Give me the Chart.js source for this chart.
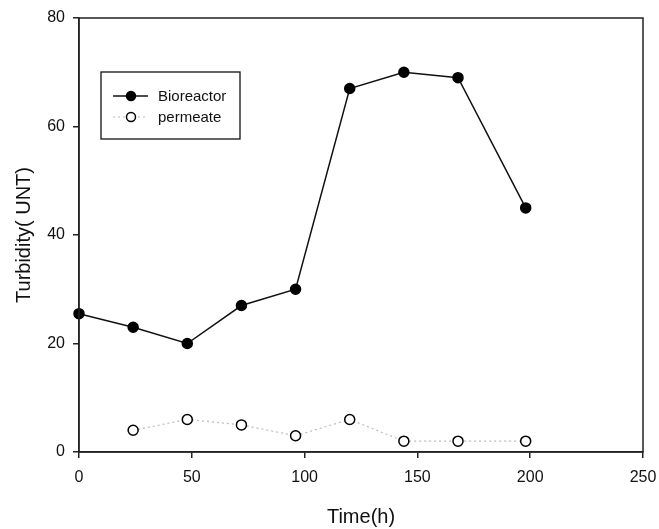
<!DOCTYPE html>
<html>
<head>
<meta charset="utf-8">
<script src="https://cdn.jsdelivr.net/npm/chart.js@4/dist/chart.umd.min.js"></script>
<style>
  html, body { margin: 0; padding: 0; background: #fff; }
  #wrap { width: 659px; height: 529px; }
</style>
</head>
<body>
<div id="wrap"><canvas id="chart"></canvas></div>
<script>
const timeHours = [0, 24, 48, 72, 96, 120, 144, 168, 198]
const bioreactor = [25.5, 23, 20, 27, 30, 67, 70, 69, 45]
const permeateTimes = [24, 48, 72, 96, 120, 144, 168, 198]
const permeate = [4, 6, 5, 3, 6, 2, 2, 2]
const xTicks = [0, 50, 100, 150, 200, 250]
const yTicks = [0, 20, 40, 60, 80]

const font = "'Liberation Sans', Arial, sans-serif"

// frame around the plot area (top and right sides too)
const frame = {
  id: "frame",
  afterDraw(chart) {
    const { ctx, chartArea: a } = chart
    ctx.save()
    ctx.strokeStyle = "#222"
    ctx.lineWidth = 1.5
    ctx.strokeRect(a.left, a.top, a.right - a.left, a.bottom - a.top)
    ctx.restore()
  }
}

// legend box inside the plot, like the original
const boxLegend = {
  id: "boxLegend",
  afterDraw(chart) {
    const { ctx } = chart
    const x = 101, y = 72, w = 139, h = 67
    ctx.save()
    ctx.fillStyle = "#fff"
    ctx.fillRect(x, y, w, h)
    ctx.strokeStyle = "#111"
    ctx.lineWidth = 1.3
    ctx.strokeRect(x, y, w, h)
    ctx.font = "15px " + font
    ctx.textBaseline = "middle"
    chart.data.datasets.forEach((ds, i) => {
      const cy = y + 24 + i * 21
      ctx.strokeStyle = ds.borderColor
      ctx.lineWidth = ds.borderWidth
      ctx.setLineDash(ds.borderDash || [])
      ctx.beginPath()
      ctx.moveTo(x + 12, cy)
      ctx.lineTo(x + 47, cy)
      ctx.stroke()
      ctx.setLineDash([])
      ctx.beginPath()
      ctx.arc(x + 30, cy, 4.5, 0, Math.PI * 2)
      ctx.fillStyle = ds.pointBackgroundColor
      ctx.fill()
      ctx.strokeStyle = ds.pointBorderColor
      ctx.lineWidth = 1.5
      ctx.stroke()
      ctx.fillStyle = "#111"
      ctx.fillText(ds.label, x + 57, cy + 1)
    })
    ctx.restore()
  }
}

new Chart(document.getElementById("chart"), {
  type: "line",
  data: {
    datasets: [
      {
        label: "Bioreactor",
        data: timeHours.map((t, i) => ({ x: t, y: bioreactor[i] })),
        borderColor: "#111",
        borderWidth: 1.5,
        pointRadius: 5,
        pointBackgroundColor: "#000",
        pointBorderColor: "#000",
        pointBorderWidth: 1.5,
        clip: false,
        fill: false
      },
      {
        label: "permeate",
        data: permeateTimes.map((t, i) => ({ x: t, y: permeate[i] })),
        borderColor: "#bbb",
        borderWidth: 1.2,
        borderDash: [2, 3],
        pointRadius: 5,
        pointBackgroundColor: "#fff",
        pointBorderColor: "#000",
        pointBorderWidth: 1.5,
        clip: false,
        fill: false
      }
    ]
  },
  options: {
    responsive: true,
    maintainAspectRatio: false,
    animation: false,
    layout: { padding: { top: 18, right: 16, left: 0, bottom: 0 } },
    plugins: { legend: { display: false }, tooltip: { enabled: false } },
    scales: {
      x: {
        type: "linear",
        min: 0,
        max: 250,
        afterBuildTicks: axis => { axis.ticks = xTicks.map(v => ({ value: v })) },
        afterFit: axis => {
          axis.height = 77
          axis.paddingLeft = 0
          axis.paddingRight = 0
        },
        grid: { drawOnChartArea: false, tickLength: 6, color: "#222", lineWidth: 1.5 },
        border: { color: "#222", width: 1.5 },
        ticks: { color: "#111", font: { family: font, size: 16 }, padding: 10, maxRotation: 0 },
        title: { display: true, text: "Time(h)", color: "#111", font: { family: font, size: 20 }, padding: { top: 0, bottom: 0 } }
      },
      y: {
        min: 0,
        max: 80,
        afterBuildTicks: axis => { axis.ticks = yTicks.map(v => ({ value: v })) },
        afterFit: axis => {
          axis.width = 79
          axis.paddingTop = 0
          axis.paddingBottom = 0
        },
        grid: { drawOnChartArea: false, tickLength: 6, color: "#222", lineWidth: 1.5 },
        border: { color: "#222", width: 1.5 },
        ticks: { color: "#111", font: { family: font, size: 16 }, padding: 8 },
        title: { display: true, text: "Turbidity( UNT)", color: "#111", font: { family: font, size: 20 }, padding: { top: 12, bottom: 0 } }
      }
    }
  },
  plugins: [frame, boxLegend]
})
</script>
</body>
</html>
